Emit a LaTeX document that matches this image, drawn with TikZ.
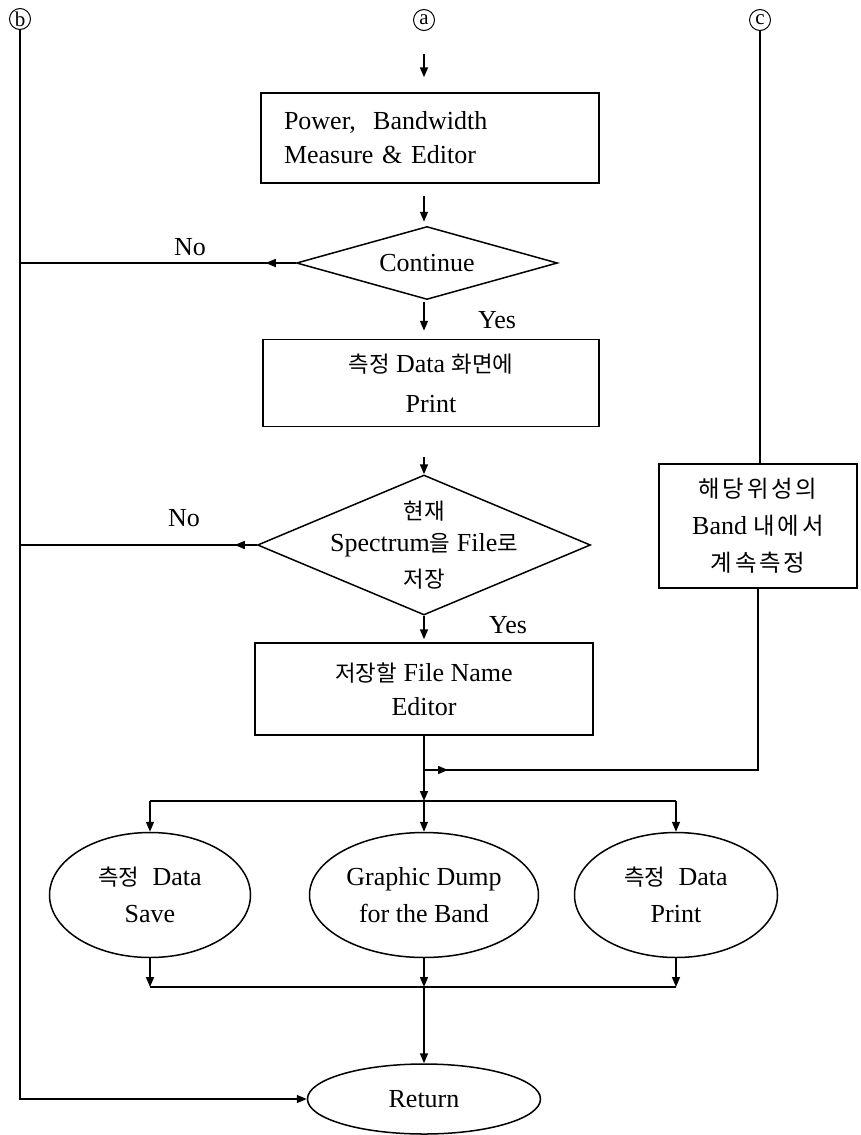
\documentclass[tikz,border=0pt]{standalone}
\usepackage{fontspec}
\setmainfont{Liberation Serif}
\newfontfamily\korfont{Noto Sans CJK KR}[Scale=0.86]
\newfontfamily\korwide{Noto Sans CJK KR}[Scale=0.9, LetterSpace=12]
\newcommand{\kor}[1]{{\korfont #1}}
\usetikzlibrary{arrows.meta,shapes.geometric,decorations.markings}

\begin{document}
\begin{tikzpicture}[x=1pt, y=-1pt,
  font=\fontsize{26}{34}\selectfont,
  line width=1.5pt,
  circ/.style={draw, circle, inner sep=0pt, minimum size=21pt, line width=1pt, font=\fontsize{21}{21}\selectfont},
  box/.style={draw, rectangle, align=center, inner sep=0pt},
  dec/.style={draw, diamond, inner sep=0pt},
  oval/.style={draw, ellipse, align=center, inner sep=0pt},
  arr/.style={-{Triangle[length=10pt, width=8pt]}},
  midarr/.style={postaction={decorate}, decoration={markings, mark=at position #1 with {\arrow{Triangle[length=10pt, width=8pt]}}}}]
\useasboundingbox (0,0) rectangle (860,1135);
% entry points
\node[circ] (b) at (20,19) {b};
\node[circ] (a) at (424,20) {a};
\node[circ] (c) at (760,20) {c};
% main column
\node[box, minimum width=338pt, minimum height=90pt, text width=292pt, align=left] (meas) at (430,138) {Power,~~Bandwidth\\ Measure \& Editor};
\node[dec, aspect=3.5, minimum width=261pt, minimum height=73pt] (cont) at (427,263) {Continue};
\node[box, minimum width=336pt, minimum height=87pt] (show) at (431,383) {\kor{측정}~Data~\kor{화면에}\\[6pt] Print};
\node[dec, minimum width=333pt, minimum height=140pt, label={[align=center]center:\kor{현재}\\[-2pt] Spectrum\kor{을} File\kor{로}\\[2pt] \kor{저장}}] (save) at (424,545) {};
\node[box, minimum width=338pt, minimum height=92pt] (fname) at (424,689) {\kor{저장할} File~Name\\ Editor};
\node[box, minimum width=198pt, minimum height=124pt] (band) at (758,526) {{\korwide 해당위성의}\\[3pt] Band~{\korwide 내에서}\\[3pt] {\korwide 계속측정}};
% outputs
\node[oval, minimum width=201pt, minimum height=125pt] (e1) at (150,895) {\kor{측정}~~Data\\[3pt] Save};
\node[oval, minimum width=229pt, minimum height=125pt] (e2) at (424,895) {Graphic Dump\\[3pt] for the Band};
\node[oval, minimum width=203pt, minimum height=125pt] (e3) at (676,895) {\kor{측정}~~Data\\[3pt] Print};
\node[oval, minimum width=233pt, minimum height=70pt] (ret) at (424,1099) {Return};
% labels
\node (no1) at (190,247) {No};
\node (no2) at (184,518) {No};
\node (yes1) at (497,320) {Yes};
\node (yes2) at (508,625) {Yes};
\coordinate (join) at (424,770);
\coordinate (split) at (424,801);
\coordinate (merge) at (424,987);
% connectors
\draw[arr, shorten <=23pt, shorten >=15pt] (a) -- (a |- meas.north);
\draw[arr, shorten <=12pt, shorten >=4pt] (a |- meas.south) -- (a |- cont.north);
\draw[arr, shorten <=2pt, shorten >=8pt] (a |- cont.south) -- (a |- show.north);
\draw[arr, shorten <=30pt] (a |- show.south) -- (a |- save.north);
\draw[arr, shorten >=3pt] (a |- save.south) -- (a |- fname.north);
\draw[midarr=30pt] (cont.west) -- (cont.west -| b);
\draw[midarr=22pt] (save.west) -- (save.west -| b);
\draw[arr] (b) |- (ret);
\draw (c) -- (c |- band.north);
\draw[midarr=24pt] (join) -| (band.south);
\draw[arr] (fname) -- (split);
\draw (e1 |- split) -- (e3 |- split);
\foreach \o in {e1,e2,e3} \draw[arr] (\o |- split) -- (\o);
\foreach \o in {e1,e2,e3} \draw[arr] (\o) -- (\o |- merge);
\draw (e1 |- merge) -- (e3 |- merge);
\draw[arr] (merge) -- (ret);
\end{tikzpicture}
\end{document}
